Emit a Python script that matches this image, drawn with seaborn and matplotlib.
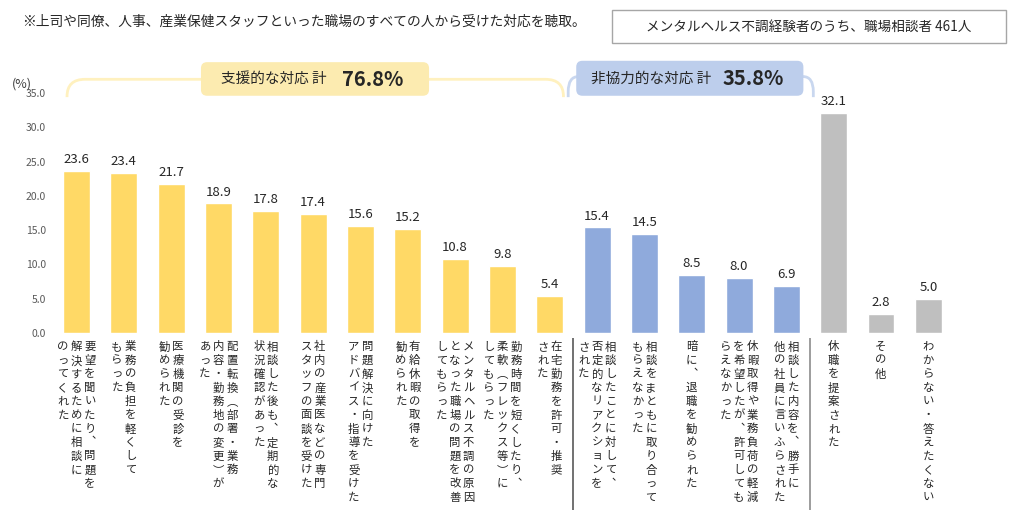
import numpy as np
import pandas as pd
import seaborn as sns
import matplotlib.pyplot as plt
from matplotlib.patches import FancyBboxPatch, PathPatch, Rectangle
from matplotlib.path import Path

# columns of each vertical label, rightmost column first
label_cols = [
    ['要望を聞いたり︑問題を', '解決するために相談に', 'のってくれた'],
    ['業務の負担を軽くして', 'もらった'],
    ['医療機関の受診を', '勧められた'],
    ['配置転換︵部署・業務', '内容・勤務地の変更︶が', 'あった'],
    ['相談した後も︑定期的な', '状況確認があった'],
    ['社内の産業医などの専門', 'スタッフの面談を受けた'],
    ['問題解決に向けた', 'アドバイス・指導を受けた'],
    ['有給休暇の取得を', '勧められた'],
    ['メンタルヘルス不調の原因', 'となった職場の問題を改善', 'してもらった'],
    ['勤務時間を短くしたり︑', '柔軟︵フレックス等︶に', 'してもらった'],
    ['在宅勤務を許可・推奨', 'された'],
    ['相談したことに対して︑', '否定的なリアクションを', 'された'],
    ['相談をまともに取り合って', 'もらえなかった'],
    ['暗に︑退職を勧められた'],
    ['休暇取得や業務負荷の軽減', 'を希望したが︑許可しても', 'らえなかった'],
    ['相談した内容を︑勝手に', '他の社員に言いふらされた'],
    ['休職を提案された'],
    ['その他'],
    ['わからない・答えたくない'],
]
values = [23.6, 23.4, 21.7, 18.9, 17.8, 17.4, 15.6, 15.2, 10.8, 9.8, 5.4,
          15.4, 14.5, 8.5, 8.0, 6.9,
          32.1, 2.8, 5.0]
groups = ['支援的'] * 11 + ['非協力的'] * 5 + ['その他'] * 3
group_totals = {'支援的': '76.8%', '非協力的': '35.8%'}
yticks = [0, 5, 10, 15, 20, 25, 30, 35]

note = '※上司や同僚、人事、産業保健スタッフといった職場のすべての人から受けた対応を聴取。'
base = 'メンタルヘルス不調経験者のうち、職場相談者 461人'

palette = {'支援的': '#FFD966', '非協力的': '#8FAADC', 'その他': '#BFBFBF'}

df = pd.DataFrame({'label': [''.join(c) for c in label_cols],
                   'value': values, 'group': groups})

sns.set_style('white')
plt.rcParams['font.family'] = ['Noto Sans CJK JP', 'DejaVu Sans']
txt = '#262626'

fig = plt.figure(figsize=(10.12, 5.3), dpi=100)
ax = fig.add_axes([0.0522, 0.3717, 0.8885, 0.4528])

sns.barplot(data=df, x='label', y='value', hue='group', palette=palette,
            dodge=False, width=0.57, legend=False, saturation=1, ax=ax)

ax.set_ylim(0, 35)
ax.set_xlim(-0.5, len(values) - 0.5)
ax.set_yticks(yticks)
ax.set_yticklabels([f'{v:.1f}' for v in yticks], fontsize=7.5, color='#595959')
ax.tick_params(axis='y', length=0, pad=5)
ax.set_xticks([])
ax.set_xlabel('')
ax.set_ylabel('')
for s in ax.spines.values():
    s.set_visible(False)

# value labels
for i, v in enumerate(values):
    ax.annotate(f'{v:.1f}', (i, v), xytext=(0, 3.5), textcoords='offset points',
                ha='center', va='bottom', fontsize=9.5, color=txt)

# vertical category labels
col_step = 9.7
char_step = 9.86
for i, cols in enumerate(label_cols):
    n = len(cols)
    for c, col in enumerate(cols):
        dx = ((n - 1) / 2 - c) * col_step
        for k, ch in enumerate(col):
            ax.annotate(ch, (i, 0), xytext=(dx, -10 - k * char_step),
                        textcoords='offset points', ha='center', va='center',
                        fontsize=8.2, color=txt, annotation_clip=False)

# group separators
ax.vlines(10.5, -0.73, -25.8, color='#595959', lw=1.2, clip_on=False)
ax.vlines(15.5, -0.73, -25.8, color='#8C8C8C', lw=1.2, clip_on=False)


def bracket(x0, x1, yb, yt, rx, ry, color):
    verts = [(x0, yb), (x0, yt - ry), (x0, yt), (x0 + rx, yt),
             (x1 - rx, yt), (x1, yt), (x1, yt - ry), (x1, yb)]
    codes = [Path.MOVETO, Path.LINETO, Path.CURVE3, Path.CURVE3,
             Path.LINETO, Path.CURVE3, Path.CURVE3, Path.LINETO]
    ax.add_patch(PathPatch(Path(verts, codes), fill=False, edgecolor=color,
                           lw=2, clip_on=False))


aspect = 47.3 / 6.857
bracket(-0.2, 10.29, 34.4, 37.0, 0.38, 2.5, '#FFF1BF')
bracket(10.39, 15.57, 34.4, 37.4, 0.22, 2.2, '#C9D7EF')

for (x0, x1, y0, y1, fc) in [(2.63, 7.45, 34.6, 39.5, '#FCEBB0'),
                             (10.56, 15.36, 34.6, 39.7, '#BDCEEC')]:
    ax.add_patch(FancyBboxPatch((x0, y0), x1 - x0, y1 - y0,
                                boxstyle='round,pad=0,rounding_size=0.13',
                                mutation_aspect=aspect, fc=fc, ec='none',
                                clip_on=False))

ax.text(5.29, 37.04, '支援的な対応 計', ha='right', va='center', fontsize=10.5, color=txt)
ax.text(5.61, 37.04, group_totals['支援的'], ha='left', va='center', fontsize=14.5,
        fontweight='semibold', color=txt)
ax.text(13.41, 37.1, '非協力的な対応 計', ha='right', va='center', fontsize=10.5, color=txt)
ax.text(13.66, 37.1, group_totals['非協力的'], ha='left', va='center', fontsize=14.5,
        fontweight='semibold', color=txt)

# header texts
fig.text(22 / 1012, 1 - 22 / 530, note, ha='left', va='center', fontsize=9.9, color=txt)
fig.patches.append(Rectangle((612 / 1012, 1 - 43 / 530), 394 / 1012, 33 / 530,
                             transform=fig.transFigure, fc='white', ec='#A6A6A6', lw=1))
fig.text(809 / 1012, 1 - 27 / 530, base, ha='center', va='center', fontsize=9.8, color=txt)
fig.text(12 / 1012, 1 - 84 / 530, '(%)', ha='left', va='center', fontsize=9, color='#404040')

fig.savefig('out.png', dpi=100)
